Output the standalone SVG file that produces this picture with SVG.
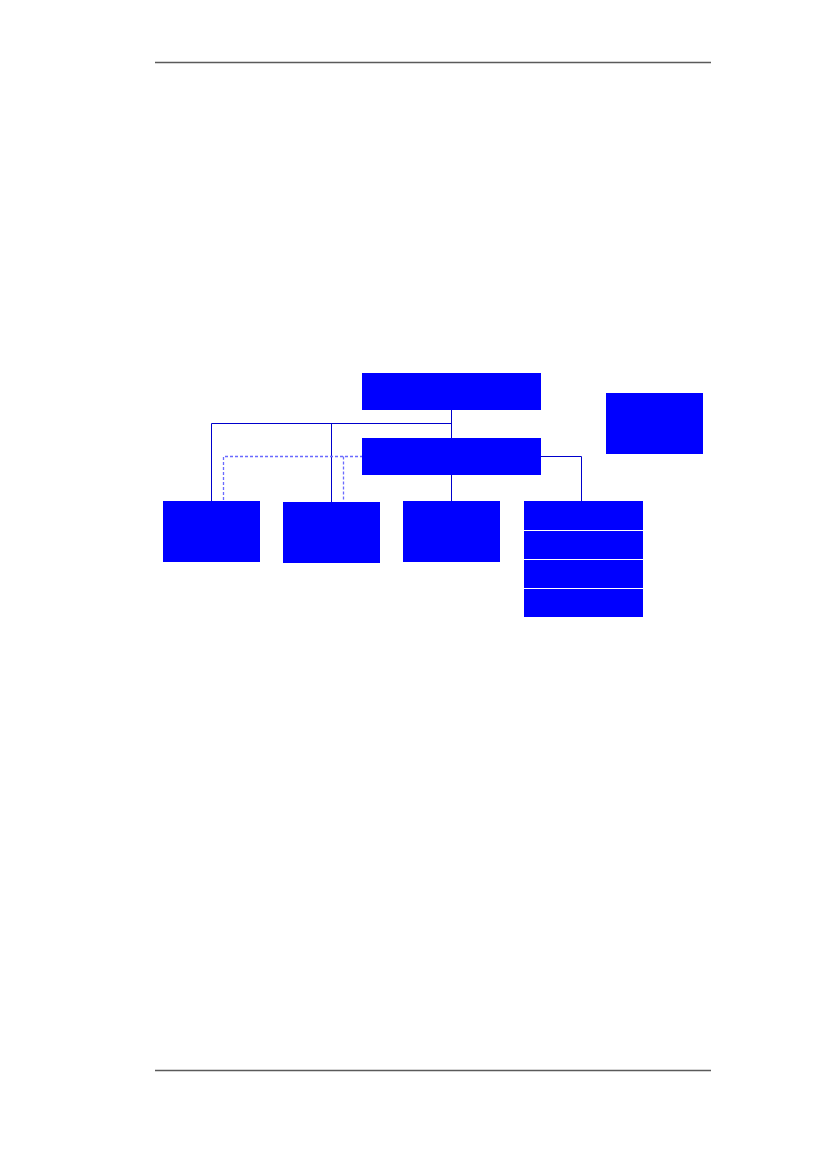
<svg xmlns="http://www.w3.org/2000/svg" width="827" height="1169" viewBox="0 0 827 1169">
<style>
.box{fill:#0000ff;}
.rule{stroke:#5a5a5a;stroke-width:1.3;fill:none;}
.con{stroke:#0000cc;stroke-width:1;fill:none;}
.dash{stroke:#6a6aff;stroke-width:1.3;fill:none;stroke-dasharray:3 2;}
</style>
<rect width="827" height="1169" fill="#ffffff"/>
<line class="rule" x1="155" y1="62.5" x2="711" y2="62.5"/>
<line class="rule" x1="155" y1="1070.5" x2="711" y2="1070.5"/>
<g id="connectors">
<polyline class="con" points="451.5,410 451.5,438"/>
<polyline class="con" points="211.5,501 211.5,423.5 451.5,423.5"/>
<polyline class="con" points="331.5,423.5 331.5,502"/>
<polyline class="con" points="451.5,475 451.5,501"/>
<polyline class="con" points="541,456.5 581.5,456.5 581.5,501"/>
<polyline class="dash" points="223.5,500 223.5,456.5 362,456.5"/>
<polyline class="dash" points="343.5,456.5 343.5,501"/>
</g>
<g id="node-top"><rect class="box" x="362" y="373" width="179" height="37"/></g>
<g id="node-second"><rect class="box" x="362" y="438" width="179" height="37"/></g>
<g id="node-right"><rect class="box" x="606" y="393" width="97" height="61"/></g>
<g id="node-a"><rect class="box" x="163" y="501" width="97" height="61"/></g>
<g id="node-b"><rect class="box" x="283" y="502" width="97" height="61"/></g>
<g id="node-c"><rect class="box" x="403" y="501" width="97" height="61"/></g>
<g id="node-stack">
<rect class="box" x="524" y="501" width="119" height="29"/>
<rect class="box" x="524" y="531" width="119" height="28"/>
<rect class="box" x="524" y="560" width="119" height="28"/>
<rect class="box" x="524" y="589" width="119" height="28"/>
</g>
</svg>
